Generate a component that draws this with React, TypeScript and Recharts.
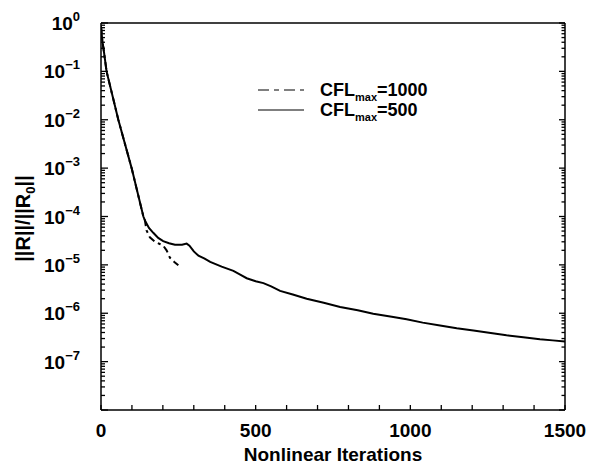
import { LineChart, Line, XAxis, YAxis, Legend } from 'recharts';

// residual history, CFL_max = 500 (iteration, ||R||/||R0||)
const iters500 = [
  0, 4, 10, 18, 56, 99, 137, 142, 155, 169, 185, 201, 220, 239, 262, 277, 286, 300, 315, 335,
  353, 390, 428, 450, 471, 500, 525, 550, 579, 620, 665, 720, 773, 830, 880, 940, 988, 1040,
  1096, 1150, 1204, 1260, 1311, 1365, 1419, 1460, 1500,
];
const resid500 = [
  0.85, 0.45, 0.24, 0.1, 0.01, 1e-3, 1e-4, 8.3e-5, 5.8e-5, 4.6e-5, 3.6e-5, 3.1e-5, 2.8e-5,
  2.6e-5, 2.6e-5, 2.75e-5, 2.5e-5, 1.9e-5, 1.55e-5, 1.35e-5, 1.15e-5, 9.2e-6, 7.5e-6, 6.3e-6,
  5.3e-6, 4.6e-6, 4.2e-6, 3.6e-6, 2.9e-6, 2.45e-6, 2.0e-6, 1.65e-6, 1.35e-6, 1.15e-6, 9.8e-7,
  8.5e-7, 7.5e-7, 6.4e-7, 5.6e-7, 4.9e-7, 4.4e-7, 3.9e-7, 3.5e-7, 3.2e-7, 2.9e-7, 2.75e-7, 2.6e-7,
];

// residual history, CFL_max = 1000
const iters1000 = [0, 4, 10, 18, 56, 99, 137, 142, 147, 158, 175, 190, 201, 212, 223, 237, 250];
const resid1000 = [
  0.85, 0.45, 0.24, 0.1, 0.01, 1e-3, 1e-4, 8.3e-5, 5.2e-5, 3.7e-5, 3.0e-5, 2.7e-5, 2.5e-5,
  2.0e-5, 1.4e-5, 1.15e-5, 9.8e-6,
];

const xTicks = [0, 100, 200, 300, 400, 500, 600, 700, 800, 900, 1000, 1100, 1200, 1300, 1400, 1500];
const xLabelTicks = [0, 500, 1000, 1500];
const yDecades = [1, 1e-1, 1e-2, 1e-3, 1e-4, 1e-5, 1e-6, 1e-7, 1e-8];
const yLabelExps = [0, -1, -2, -3, -4, -5, -6, -7];
const minorSteps = [2, 3, 4, 5, 6, 7, 8, 9];

const data500 = iters500.map((it, i) => ({ it, r: resid500[i] }));
const data1000 = iters1000.map((it, i) => ({ it, r: resid1000[i] }));

const yTicks = [
  ...yDecades,
  ...yDecades.slice(1).flatMap((d) => minorSteps.map((k) => d * k)),
];

const FONT = '"Liberation Sans", Arial, Helvetica, sans-serif';
const INK = '#000';

const isDecade = (v: number) => yDecades.some((d) => Math.abs(v / d - 1) < 1e-6);

function LeftTick(props: any) {
  const x = Number(props.x);
  const y = Number(props.y);
  const v = props.payload.value as number;
  const major = isDecade(v);
  const exp = Math.round(Math.log10(v));
  const labelled = major && yLabelExps.includes(exp);
  return (
    <g>
      <path d={`M${x},${y}H${x + (major ? 7 : 4)}`} stroke={INK} strokeWidth={1.3} fill="none" />
      {labelled && (
        <text x={x - 21} y={y + 7} textAnchor="end" fontFamily={FONT} fontWeight={700} fontSize={19} fill={INK}>
          10
          <tspan dy={-9} fontSize={13}>
            {exp === 0 ? '0' : `\u2212${-exp}`}
          </tspan>
        </text>
      )}
    </g>
  );
}

function RightTick(props: any) {
  const x = Number(props.x);
  const y = Number(props.y);
  const major = isDecade(props.payload.value);
  return <path d={`M${x},${y}H${x - (major ? 6 : 3.5)}`} stroke={INK} strokeWidth={1.3} fill="none" />;
}

function BottomTick(props: any) {
  const x = Number(props.x);
  const y = Number(props.y);
  const v = props.payload.value as number;
  return (
    <g>
      <path d={`M${x},${y}V${y - 5}`} stroke={INK} strokeWidth={1.3} fill="none" />
      {xLabelTicks.includes(v) && (
        <text x={x} y={y + 27} textAnchor="middle" fontFamily={FONT} fontWeight={700} fontSize={19} fill={INK}>
          {v}
        </text>
      )}
    </g>
  );
}

function TopTick(props: any) {
  const x = Number(props.x);
  const y = Number(props.y);
  return <path d={`M${x},${y}V${y + 5}`} stroke={INK} strokeWidth={1.3} fill="none" />;
}

function XTitle({ viewBox }: any) {
  const cx = viewBox.x + viewBox.width / 2;
  return (
    <text x={cx} y={viewBox.y + 51} textAnchor="middle" fontFamily={FONT} fontWeight={700} fontSize={19} fill={INK}>
      Nonlinear Iterations
    </text>
  );
}

function YTitle({ viewBox }: any) {
  const cx = 30;
  const cy = viewBox.y + viewBox.height / 2 + 2;
  return (
    <text
      x={cx}
      y={cy}
      transform={`rotate(-90, ${cx}, ${cy})`}
      textAnchor="middle"
      fontFamily={FONT}
      fontWeight={700}
      fontSize={20}
      fill={INK}
    >
      ||R||/||R
      <tspan dy={5} fontSize={13}>0</tspan>
      <tspan dy={-5}>||</tspan>
    </text>
  );
}

const legendItems = [
  { label: '1000', dash: '11 5 5 5' },
  { label: '500', dash: undefined },
];

function LegendBox() {
  return (
    <div style={{ fontFamily: FONT, fontWeight: 700, color: INK }}>
      {legendItems.map((item) => (
        <div key={item.label} style={{ display: 'flex', alignItems: 'center', height: 20 }}>
          <svg width={46} height={6} style={{ display: 'block' }}>
            <line x1={0} y1={3} x2={46} y2={3} stroke={INK} strokeWidth={1.2} strokeDasharray={item.dash} />
          </svg>
          <span style={{ marginLeft: 16, fontSize: 18, lineHeight: 1, whiteSpace: 'nowrap' }}>
            CFL
            <span style={{ fontSize: 11, position: 'relative', top: 5 }}>max</span>={item.label}
          </span>
        </div>
      ))}
    </div>
  );
}

export default function App() {
  return (
    <div style={{ position: 'absolute', left: 0, top: 0, width: 590, height: 470, background: '#fff' }}>
      <LineChart width={590} height={470} margin={{ top: 22, right: 24, bottom: 0, left: 0 }}>
        <XAxis
          xAxisId="bottom"
          dataKey="it"
          type="number"
          domain={[0, 1500]}
          ticks={xTicks}
          interval={0}
          allowDataOverflow
          height={60}
          tickSize={0}
          tickMargin={0}
          tickLine={false}
          axisLine={{ stroke: INK, strokeWidth: 1.5 }}
          tick={<BottomTick />}
          label={{ content: (p: any) => <XTitle {...p} /> }}
        />
        <XAxis
          xAxisId="top"
          orientation="top"
          type="number"
          domain={[0, 1500]}
          ticks={xTicks}
          interval={0}
          allowDataOverflow
          height={1}
          tickSize={0}
          tickMargin={0}
          tickLine={false}
          axisLine={{ stroke: INK, strokeWidth: 1.5 }}
          tick={<TopTick />}
        />
        <YAxis
          yAxisId="left"
          scale="log"
          type="number"
          domain={[1e-8, 1]}
          ticks={yTicks}
          interval={0}
          allowDataOverflow
          width={101}
          tickSize={0}
          tickMargin={0}
          tickLine={false}
          axisLine={{ stroke: INK, strokeWidth: 1.5 }}
          tick={<LeftTick />}
          label={{ content: (p: any) => <YTitle {...p} /> }}
        />
        <YAxis
          yAxisId="right"
          orientation="right"
          scale="log"
          type="number"
          domain={[1e-8, 1]}
          ticks={yTicks}
          interval={0}
          allowDataOverflow
          width={1}
          tickSize={0}
          tickMargin={0}
          tickLine={false}
          axisLine={{ stroke: INK, strokeWidth: 1.5 }}
          tick={<RightTick />}
        />
        <Legend
          verticalAlign="middle"
          align="center"
          layout="horizontal"
          content={<LegendBox />}
          wrapperStyle={{ position: 'absolute', top: 80, left: 258, width: 220, bottom: 'auto', right: 'auto' }}
        />
        <Line
          xAxisId="bottom"
          yAxisId="left"
          data={data500}
          dataKey="r"
          type="linear"
          stroke={INK}
          strokeWidth={2}
          dot={false}
          isAnimationActive={false}
        />
        <Line
          xAxisId="bottom"
          yAxisId="left"
          data={data1000}
          dataKey="r"
          type="linear"
          stroke={INK}
          strokeWidth={2}
          strokeDasharray="7 4 3 4"
          dot={false}
          isAnimationActive={false}
        />
      </LineChart>
    </div>
  );
}
